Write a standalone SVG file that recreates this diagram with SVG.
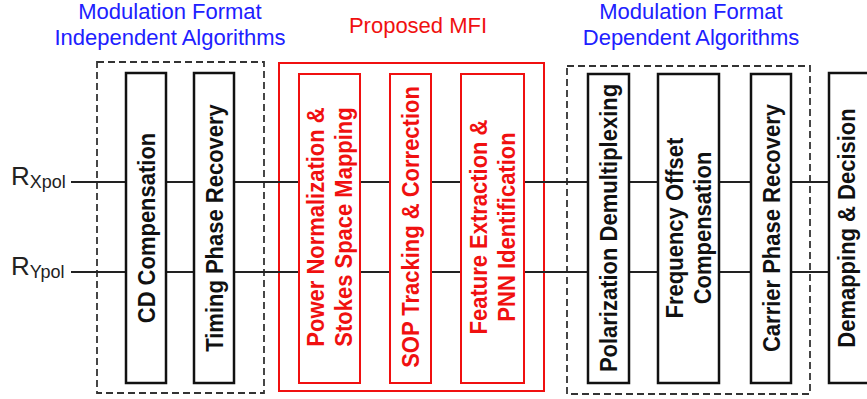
<svg xmlns="http://www.w3.org/2000/svg" width="867" height="399" viewBox="0 0 867 399">
<style>
text{font-family:"Liberation Sans",Arial,sans-serif}
.title{font-size:22px;text-anchor:middle}
.blue{fill:#2020ff}
.red{fill:#f01010}
.blk{fill:#fff;stroke:#111;stroke-width:2.5}
.rblk{fill:#fff;stroke:#f01010;stroke-width:2}
.cont{fill:none;stroke:#333;stroke-width:1.8;stroke-dasharray:7 4}
.rcont{fill:none;stroke:#f01010;stroke-width:2}
.lbl{font-size:22px;font-weight:bold;text-anchor:middle;fill:#111}
.rlbl{font-size:22px;font-weight:bold;text-anchor:middle;fill:#f01010}
.wire{stroke:#222;stroke-width:2;fill:none}
.in{font-size:26px;fill:#222}
.sub{font-size:18px}
</style>
<g id="titles">
<text class="title blue" x="170" y="19">Modulation Format</text>
<text class="title blue" x="170" y="45">Independent Algorithms</text>
<text class="title red" x="418" y="33">Proposed MFI</text>
<text class="title blue" x="691" y="19">Modulation Format</text>
<text class="title blue" x="691" y="45">Dependent Algorithms</text>
</g>
<g id="containers">
<rect id="mf-independent" class="cont" x="97" y="62" width="167" height="331"/>
<rect id="proposed-mfi" class="rcont" x="279" y="63" width="265" height="328"/>
<rect id="mf-dependent" class="cont" x="567" y="66" width="243" height="328"/>
</g>
<g id="connectors">
<line class="wire" x1="71" y1="182" x2="829" y2="182"/>
<line class="wire" x1="71" y1="272" x2="829" y2="272"/>
</g>
<g id="inputs">
<text class="in" x="11" y="185">R<tspan class="sub" dy="3">Xpol</tspan></text>
<text class="in" x="11" y="275">R<tspan class="sub" dy="3">Ypol</tspan></text>
</g>
<g id="cd">
<rect class="blk" x="126" y="73" width="40" height="310"/>
<text class="lbl" transform="translate(146,228) scale(1.08,1) rotate(-90)" y="8">CD Compensation</text>
</g>
<g id="timing">
<rect class="blk" x="194" y="73" width="40" height="310"/>
<text class="lbl" transform="translate(214,228) scale(1.08,1) rotate(-90)" y="8">Timing Phase Recovery</text>
</g>
<g id="power">
<rect class="rblk" x="299" y="74" width="61" height="309"/>
<text class="rlbl" transform="translate(329.5,227) scale(1.08,1) rotate(-90)"><tspan x="0" y="-5">Power Normalization &amp;</tspan><tspan x="0" y="20.5">Stokes Space Mapping</tspan></text>
</g>
<g id="sop">
<rect class="rblk" x="390" y="74" width="41" height="309"/>
<text class="rlbl" transform="translate(410.5,227) scale(1.08,1) rotate(-90)" y="8">SOP Tracking &amp; Correction</text>
</g>
<g id="feature">
<rect class="rblk" x="461" y="74" width="63" height="309"/>
<text class="rlbl" transform="translate(492.5,227) scale(1.08,1) rotate(-90)"><tspan x="0" y="-5">Feature Extraction &amp;</tspan><tspan x="0" y="20.5">PNN Identification</tspan></text>
</g>
<g id="poldemux">
<rect class="blk" x="588" y="74" width="41" height="309"/>
<text class="lbl" transform="translate(608.5,228) scale(1.08,1) rotate(-90)" y="8">Polarization Demultiplexing</text>
</g>
<g id="freq">
<rect class="blk" x="658" y="74" width="61" height="309"/>
<text class="lbl" transform="translate(688.5,228) scale(1.08,1) rotate(-90)"><tspan x="0" y="-5">Frequency Offset</tspan><tspan x="0" y="20.5">Compensation</tspan></text>
</g>
<g id="carrier">
<rect class="blk" x="751" y="74" width="40" height="309"/>
<text class="lbl" transform="translate(771,228) scale(1.08,1) rotate(-90)" y="8">Carrier Phase Recovery</text>
</g>
<g id="demap">
<rect class="blk" x="829" y="73" width="60" height="310"/>
<text class="lbl" transform="translate(846,228) scale(1.08,1) rotate(-90)" y="8">Demapping &amp; Decision</text>
</g>
</svg>
